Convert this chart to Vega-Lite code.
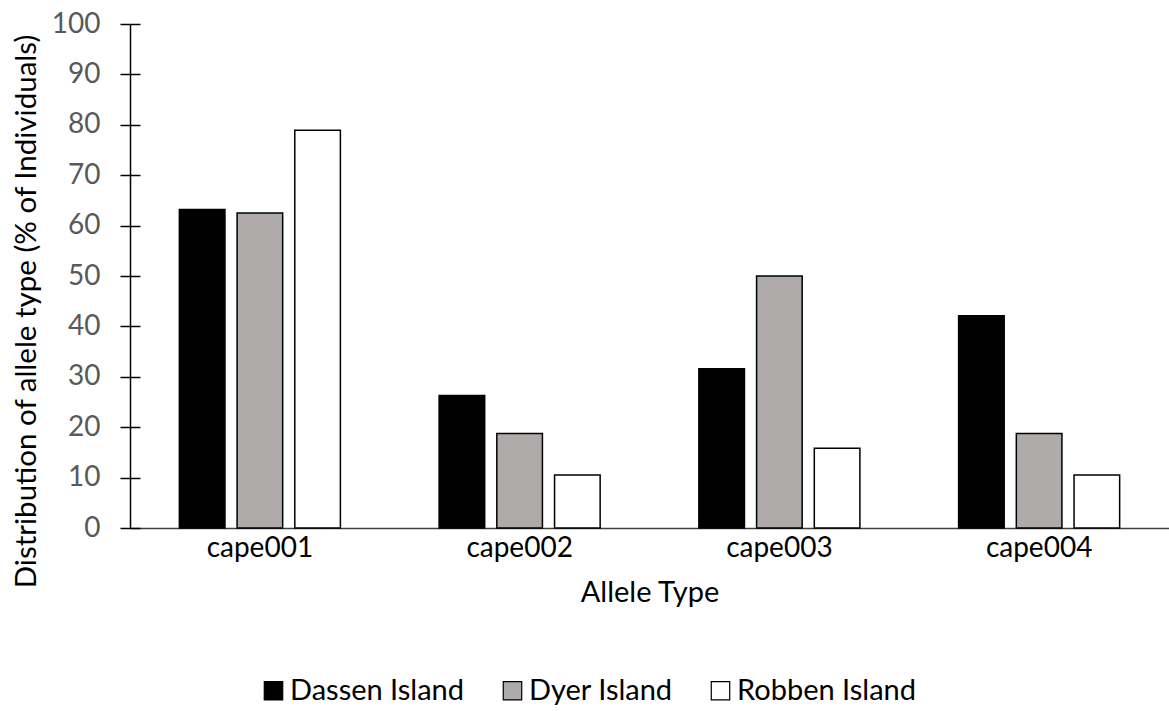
{
  "$schema": "https://vega.github.io/schema/vega-lite/v6.json",
  "autosize": "none",
  "width": 1039,
  "height": 504,
  "padding": {"left": 130, "top": 24, "right": 0, "bottom": 183},
  "background": "white",
  "config": {
    "view": {"stroke": null},
    "font": "Lato",
    "axis": {"labelFont": "Lato", "titleFont": "Lato", "labelFontWeight": "normal", "titleFontWeight": "normal"}
  },
  "data": {
    "values": [
      {"allele": "cape001", "island": "Dassen Island", "pct": 63.2},
      {"allele": "cape001", "island": "Dyer Island", "pct": 62.5},
      {"allele": "cape001", "island": "Robben Island", "pct": 78.9},
      {"allele": "cape002", "island": "Dassen Island", "pct": 26.3},
      {"allele": "cape002", "island": "Dyer Island", "pct": 18.75},
      {"allele": "cape002", "island": "Robben Island", "pct": 10.5},
      {"allele": "cape003", "island": "Dassen Island", "pct": 31.6},
      {"allele": "cape003", "island": "Dyer Island", "pct": 50},
      {"allele": "cape003", "island": "Robben Island", "pct": 15.8},
      {"allele": "cape004", "island": "Dassen Island", "pct": 42.1},
      {"allele": "cape004", "island": "Dyer Island", "pct": 18.75},
      {"allele": "cape004", "island": "Robben Island", "pct": 10.5}
    ]
  },
  "layer": [
    {
      "mark": {"type": "bar", "stroke": "black", "strokeWidth": 1.5},
      "encoding": {
        "x": {
          "field": "allele", "type": "nominal",
          "scale": {"paddingInner": 0.38, "paddingOuter": 0.19},
          "axis": {
            "title": "Allele Type", "titleFontSize": 29, "titleColor": "black", "titlePadding": 16,
            "labelAngle": 0, "labelFontSize": 28, "labelColor": "black", "labelPadding": 6,
            "ticks": false, "domainColor": "#404040", "domainWidth": 1.5
          }
        },
        "xOffset": {"field": "island", "type": "nominal", "scale": {"paddingInner": 0.21, "paddingOuter": 0}},
        "y": {
          "field": "pct", "type": "quantitative",
          "scale": {"domain": [0, 100], "nice": false},
          "axis": {
            "title": "Distribution of allele type (% of Individuals)", "titleFontSize": 29.5, "titleColor": "black", "titlePadding": 10,
            "titleY": 287,
            "values": [0, 10, 20, 30, 40, 50, 60, 70, 80, 90, 100],
            "labelFontSize": 28, "labelColor": "#595959", "labelPadding": 20,
            "tickSize": 10, "tickColor": "black", "tickWidth": 1.5,
            "domainColor": "black", "domainWidth": 1.5, "grid": false
          }
        },
        "fill": {
          "field": "island", "type": "nominal",
          "scale": {"domain": ["Dassen Island", "Dyer Island", "Robben Island"], "range": ["#000000", "#AFABAB", "#FFFFFF"]},
          "legend": {
            "title": null, "orient": "none", "direction": "horizontal",
            "legendX": 129, "legendY": 652,
            "symbolType": "square", "symbolSize": 340, "symbolStrokeColor": "black", "symbolStrokeWidth": 1.2,
            "labelFontSize": 29, "labelColor": "black", "labelFont": "Lato", "labelOffset": 2, "labelLimit": 400,
            "columnPadding": 33
          }
        }
      }
    },
    {
      "mark": {"type": "tick", "opacity": 0},
      "encoding": {
        "y": {
          "field": "pct", "type": "quantitative",
          "scale": {"domain": [0, 100], "nice": false},
          "axis": {
            "orient": "left", "offset": -10, "title": null, "labels": false, "domain": false,
            "values": [0, 10, 20, 30, 40, 50, 60, 70, 80, 90, 100],
            "tickSize": 10, "tickColor": "black", "tickWidth": 1.5, "grid": false
          }
        }
      }
    }
  ],
  "resolve": {"scale": {"y": "independent"}, "axis": {"y": "independent"}}
}
